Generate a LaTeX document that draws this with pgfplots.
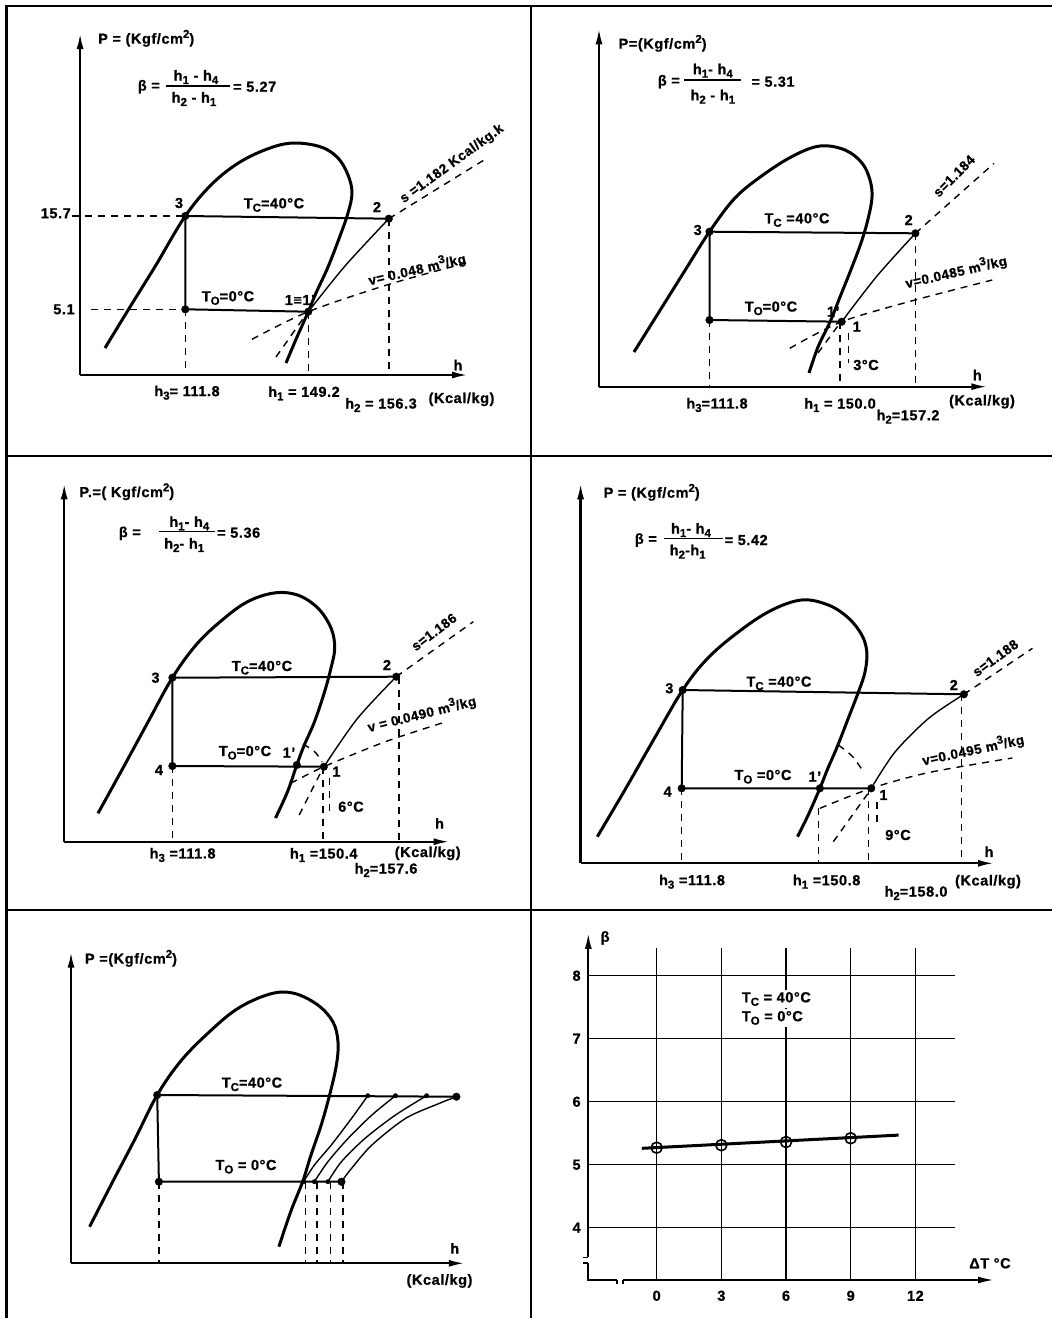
\documentclass[border=0pt]{standalone}
\usepackage{fontspec}
\setmainfont{Liberation Sans}[LetterSpace=4.0, BoldFeatures={FakeBold=0.8}]
\usepackage{pgfplots}
\pgfplotsset{compat=1.18}
\usetikzlibrary{arrows.meta}
\newcommand\lab{\fontsize{14.5}{16}\selectfont\bfseries}
\newcommand\sml{\fontsize{13.5}{15}\selectfont\bfseries}
\newcommand\sub[1]{\raisebox{-0.45ex}{\fontsize{11.5}{12}\selectfont\bfseries #1}}
\newcommand\sps[1]{\raisebox{0.75ex}{\fontsize{11.5}{12}\selectfont\bfseries #1}}
\pgfplotsset{
 dome/.style={black, line width=3pt, smooth, tension=0.6, no markers},
 cyc/.style={black, line width=2pt, no markers},
 comp/.style={black, line width=1.4pt, smooth, no markers},
 dsh/.style={black, line width=1.4pt, dash pattern=on 7pt off 6pt, no markers},
 dshs/.style={black, line width=1.4pt, dash pattern=on 7pt off 6pt, smooth, no markers},
 dots/.style={black, only marks, mark=*, mark size=3.8pt},
 sdots/.style={black, only marks, mark=*, mark size=2.2pt},
}
\tikzset{lbl/.style={font=\lab, inner sep=0pt},
 slbl/.style={font=\sml, inner sep=0pt},
 axarrow/.style={line width=2.3pt, -{Latex[length=16pt,width=7pt]}},
 frac/.style={line width=1.5pt}}
\begin{document}
\begin{tikzpicture}
\useasboundingbox (0,0) rectangle (1052pt,1318pt);
\begin{axis}[at={(0pt,0pt)}, anchor=south west, scale only axis,
  width=1052pt, height=1318pt, xmin=0, xmax=1052, ymin=0, ymax=1318,
  y dir=reverse, hide axis, clip=false]
% ---------- frame ----------
\draw[line width=2.4pt] (axis cs:6.5,1318) -- (axis cs:6.5,5.7) -- (axis cs:1052,5.7);
\draw[line width=2.4pt] (axis cs:6.5,455.7) -- (axis cs:1052,455.7);
\draw[line width=2.4pt] (axis cs:6.5,910) -- (axis cs:1052,910);
\draw[line width=2.4pt] (axis cs:531,5.7) -- (axis cs:531,1318);

% ================= PANEL 1 =================
\draw[axarrow] (axis cs:80.1,375) -- (axis cs:80.1,33);
\draw[axarrow] (axis cs:80.1,375) -- (axis cs:468,375);
\addplot[dome] coordinates {(105,348) (130,307) (156,265) (185.3,216) (212,184) (240,162) (270,148) (294,143) (321,147) (338,158) (348,175) (352,193) (348,213) (340,236) (328,267) (316,293) (308.3,311.7) (297,337) (286,363)};
\addplot[cyc] coordinates {(185.3,216) (388.8,218.7)};
\addplot[cyc] coordinates {(185.3,216) (185.3,309.3) (308.3,311.7)};
\addplot[comp] coordinates {(308.3,311.7) (345,266) (388.8,218.7)};
\addplot[dsh] coordinates {(72,216) (185.3,216)};
\addplot[dsh] coordinates {(91,309.3) (185.3,309.3)};
\addplot[dsh] coordinates {(185.3,309.3) (185.3,375)};
\addplot[dsh] coordinates {(308.3,311.7) (308.3,375)};
\addplot[dsh] coordinates {(388.8,218.7) (388.8,375)};
\addplot[dsh] coordinates {(388.8,218.7) (486.8,158.3)};
\addplot[dshs] coordinates {(251.9,339.3) (308.3,311.7) (390,284) (470,262)};
\addplot[dsh] coordinates {(276,357) (307,313)};
\addplot[dots] coordinates {(185.3,216) (388.8,218.7) (185.3,309.3) (308.3,311.7)};
\node[lbl, anchor=west] at (axis cs:98,38.3) {P = (Kgf/cm\sps2)};
\node[lbl, anchor=east] at (axis cs:160,86.7) {β =};
\draw[frac] (axis cs:165.6,86) -- (axis cs:229.9,86);
\node[lbl] at (axis cs:196,77) {h\sub1 - h\sub4};
\node[lbl] at (axis cs:194,99) {h\sub2 - h\sub1};
\node[lbl, anchor=west] at (axis cs:233,86.7) {= 5.27};
\node[lbl] at (axis cs:179,203) {3};
\node[lbl] at (axis cs:377,207) {2};
\node[lbl] at (axis cs:274,205) {T\sub{C}=40°C};
\node[lbl] at (axis cs:228,298) {T\sub{O}=0°C};
\node[lbl] at (axis cs:300,300) {1≡1'};
\node[lbl] at (axis cs:55.8,213.3) {15.7};
\node[lbl] at (axis cs:64,309.3) {5.1};
\node[lbl] at (axis cs:458,365) {h};
\node[lbl] at (axis cs:187,392.7) {h\sub3= 111.8};
\node[lbl] at (axis cs:304,393.3) {h\sub1 = 149.2};
\node[lbl] at (axis cs:381,405) {h\sub2 = 156.3};
\node[lbl] at (axis cs:461.5,399.3) {(Kcal/kg)};
\node[slbl, rotate=36] at (axis cs:452,164) {s =1.182 Kcal/kg.k};
\node[slbl, rotate=13] at (axis cs:417,269) {v= 0.048 m\sps3/kg};

% ================= PANEL 2 =================
\draw[axarrow] (axis cs:599,386.7) -- (axis cs:599,28.3);
\draw[axarrow] (axis cs:599,386.7) -- (axis cs:987.3,386.7);
\addplot[dome] coordinates {(634,352) (659,312) (684,272) (709.5,231.7) (735,198) (763,175) (793,156) (820,146) (845,150) (862,163) (870,180) (872,197) (868.5,217) (862,240) (852,267) (840,297) (830,322) (818,347) (809,373)};
\addplot[cyc] coordinates {(709.5,231.7) (915.4,233.3)};
\addplot[cyc] coordinates {(709.5,231.7) (709.5,320) (841.7,321.7)};
\addplot[comp] coordinates {(841.7,321.7) (877,276) (915.4,233.3)};
\addplot[dsh] coordinates {(709.5,320) (709.5,386.7)};
\addplot[dsh] coordinates {(840,322) (840,386.7)};
\addplot[dsh] coordinates {(915.4,233.3) (915.4,386.7)};
\addplot[dsh] coordinates {(848.4,333) (848.4,363)};
\addplot[dsh] coordinates {(915.4,233.3) (994,163.3)};
\addplot[dshs] coordinates {(789.8,348.3) (841.7,321.7) (915,300) (992.3,280)};
\addplot[dsh] coordinates {(818,353) (840,323)};
\addplot[dots] coordinates {(709.5,231.7) (915.4,233.3) (709.5,320) (841.7,321.7)};
\node[lbl] at (axis cs:662.6,43.3) {P=(Kgf/cm\sps2)};
\node[lbl, anchor=east] at (axis cs:680,81.7) {β =};
\draw[frac] (axis cs:684.3,80) -- (axis cs:741.3,80);
\node[lbl] at (axis cs:712.8,70.7) {h\sub1- h\sub4};
\node[lbl] at (axis cs:712.8,96.7) {h\sub2 - h\sub1};
\node[lbl, anchor=west] at (axis cs:751.3,81.7) {= 5.31};
\node[lbl] at (axis cs:697.7,230) {3};
\node[lbl] at (axis cs:908.7,220) {2};
\node[lbl] at (axis cs:797,220) {T\sub{C} =40°C};
\node[lbl] at (axis cs:771,308.3) {T\sub{O}=0°C};
\node[lbl] at (axis cs:833.3,311.7) {1'};
\node[lbl] at (axis cs:856.8,326.7) {1};
\node[lbl] at (axis cs:866,365) {3°C};
\node[lbl] at (axis cs:977.3,375) {h};
\node[lbl] at (axis cs:717,405) {h\sub3=111.8};
\node[lbl] at (axis cs:840,405) {h\sub1 = 150.0};
\node[lbl] at (axis cs:908,416.7) {h\sub2=157.2};
\node[lbl] at (axis cs:982,401.7) {(Kcal/kg)};
\node[slbl, rotate=45] at (axis cs:954,176) {s=1.184};
\node[slbl, rotate=13] at (axis cs:956,271.5) {v=0.0485 m\sps3/kg};

% ================= PANEL 3 =================
\draw[axarrow] (axis cs:64.2,841.7) -- (axis cs:64.2,483.3);
\draw[axarrow] (axis cs:64.2,841.7) -- (axis cs:449.6,841.7);
\addplot[dome] coordinates {(98,813.3) (123,768) (148,722) (172.4,677.7) (196,645) (221,621) (247,602) (274,593) (297.5,595) (317.8,608) (331,628) (334.7,648) (331,668) (324.5,692) (314.4,722) (304.3,745) (296.8,765) (287.4,792) (275.5,818)};
\addplot[cyc] coordinates {(172.4,677.7) (396.2,676.7)};
\addplot[cyc] coordinates {(172.4,677.7) (172.4,766) (323.9,766.7)};
\addplot[comp] coordinates {(323.9,766.7) (357,719) (396.2,676.7)};
\addplot[dsh] coordinates {(172.4,766) (172.4,841.7)};
\addplot[dsh] coordinates {(322.9,767) (322.9,841.7)};
\addplot[dsh] coordinates {(398.9,677) (398.9,841.7)};
\addplot[dsh] coordinates {(329.6,778) (329.6,817)};
\addplot[dshs] coordinates {(303,744) (315,752) (322,762)};
\addplot[dshs] coordinates {(290.7,783.3) (323.9,766.7) (385.4,741.7) (446.2,721.7)};
\addplot[dsh] coordinates {(299.2,815) (323,768)};
\addplot[dsh] coordinates {(396.2,676.7) (473.3,621.7)};
\addplot[dots] coordinates {(172.4,677.7) (396.2,676.7) (172.4,766) (296.8,765) (323.9,766.7)};
\node[lbl] at (axis cs:126.8,491.7) {P.=( Kgf/cm\sps2)};
\node[lbl, anchor=east] at (axis cs:141,533.3) {β =};
\draw[frac] (axis cs:158.9,531.7) -- (axis cs:214.7,531.7);
\node[lbl] at (axis cs:189.3,523.3) {h\sub1- h\sub4};
\node[lbl] at (axis cs:184.2,545) {h\sub2- h\sub1};
\node[lbl, anchor=west] at (axis cs:217,532.7) {= 5.36};
\node[lbl] at (axis cs:155.5,677.7) {3};
\node[lbl] at (axis cs:387,665) {2};
\node[lbl] at (axis cs:158.9,770) {4};
\node[lbl] at (axis cs:262,667.7) {T\sub{C}=40°C};
\node[lbl] at (axis cs:245,752.7) {T\sub{O}=0°C};
\node[lbl] at (axis cs:289,752.7) {1'};
\node[lbl] at (axis cs:336.4,771.7) {1};
\node[lbl] at (axis cs:351,806.7) {6°C};
\node[lbl] at (axis cs:439.5,823.3) {h};
\node[lbl] at (axis cs:182.6,855) {h\sub3 =111.8};
\node[lbl] at (axis cs:323.7,855) {h\sub1 =150.4};
\node[lbl] at (axis cs:386,870) {h\sub2=157.6};
\node[lbl] at (axis cs:427.7,853.3) {(Kcal/kg)};
\node[slbl, rotate=37] at (axis cs:434,632) {s=1.186};
\node[slbl, rotate=14] at (axis cs:421.7,713.5) {v = 0.0490 m\sps3/kg};

% ================= PANEL 4 =================
\draw[axarrow] (axis cs:580.6,863.3) -- (axis cs:580.6,483.3);
\draw[axarrow] (axis cs:580.6,863.3) -- (axis cs:994,863.3);
\addplot[dome] coordinates {(597.3,836.7) (626,788) (654,739) (682.7,690) (707,659) (737,633) (770,611) (801.5,600) (828.3,605) (848.4,618) (861.8,635) (866.8,652) (865,672) (858.4,692) (848.4,718) (836.7,748) (828,768) (819.9,788.3) (808.2,815) (797.5,836.7)};
\addplot[cyc] coordinates {(682.7,690) (963.9,694.3)};
\addplot[cyc] coordinates {(682.7,690) (681.7,788.3) (871.2,788.3)};
\addplot[comp] coordinates {(871.2,788.3) (895,752) (929,718) (963.9,694.3)};
\addplot[dsh] coordinates {(681.7,788.3) (681.7,863.3)};
\addplot[dsh] coordinates {(818.3,808) (818.3,863.3)};
\addplot[dsh] coordinates {(868.5,788.3) (868.5,863.3)};
\addplot[dsh] coordinates {(961.5,694.3) (961.5,863.3)};
\addplot[dsh] coordinates {(876.8,801.7) (876.8,825)};
\addplot[dshs] coordinates {(838.3,745) (852,756) (863.5,771.7)};
\addplot[dshs] coordinates {(819.9,808.3) (871.2,788.3) (929,772.5) (1012.4,758)};
\addplot[dsh] coordinates {(833.3,841.7) (869,792)};
\addplot[dsh] coordinates {(963.9,694.3) (1032.5,648.3)};
\addplot[dots] coordinates {(682.7,690) (963.9,694.3) (681.7,788.3) (819.9,788.3) (871.2,788.3)};
\node[lbl] at (axis cs:651.7,492.3) {P = (Kgf/cm\sps2)};
\node[lbl, anchor=east] at (axis cs:657,540) {β =};
\draw[frac] (axis cs:664.3,538.3) -- (axis cs:722.9,538.3);
\node[lbl] at (axis cs:691,530) {h\sub1- h\sub4};
\node[lbl] at (axis cs:687.7,551.7) {h\sub2-h\sub1};
\node[lbl, anchor=west] at (axis cs:724.5,540) {= 5.42};
\node[lbl] at (axis cs:669.3,688.3) {3};
\node[lbl] at (axis cs:953.8,685) {2};
\node[lbl] at (axis cs:667.6,791.7) {4};
\node[lbl] at (axis cs:779,683.3) {T\sub{C} =40°C};
\node[lbl] at (axis cs:763,776.7) {T\sub{O} =0°C};
\node[lbl] at (axis cs:814.9,776.7) {1'};
\node[lbl] at (axis cs:883.5,795) {1};
\node[lbl] at (axis cs:898,835) {9°C};
\node[lbl] at (axis cs:989,851.7) {h};
\node[lbl] at (axis cs:692,881.7) {h\sub3 =111.8};
\node[lbl] at (axis cs:826.6,881.7) {h\sub1 =150.8};
\node[lbl] at (axis cs:916,893) {h\sub2=158.0};
\node[lbl] at (axis cs:988,881.7) {(Kcal/kg)};
\node[slbl, rotate=36] at (axis cs:995.4,658) {s=1.188};
\node[slbl, rotate=12] at (axis cs:973,749.5) {v=0.0495 m\sps3/kg};

% ================= PANEL 5 =================
\draw[axarrow] (axis cs:71,1263.3) -- (axis cs:71,951.7);
\draw[axarrow] (axis cs:71,1263.3) -- (axis cs:464.8,1263.3);
\addplot[dome] coordinates {(89.6,1226.7) (112,1183) (135,1139) (157.2,1095) (180,1062) (206,1035) (237,1009) (270,994) (294,993.3) (317.8,1005) (333,1022) (338,1042) (336.4,1065) (329.6,1095) (321.2,1125) (311,1155) (302.6,1181.7) (290.7,1211.7) (278.9,1246.7)};
\addplot[cyc] coordinates {(157.2,1095) (456.4,1096.7)};
\addplot[cyc] coordinates {(157.2,1095) (158.9,1181.7) (341.4,1181.7)};
\addplot[comp] coordinates {(303.6,1181.7) (314.4,1165) (331.3,1145) (351.6,1118.3) (367.8,1095.7)};
\addplot[comp] coordinates {(314.4,1181.7) (327.9,1161.7) (348.2,1138.3) (371.9,1115) (395.5,1095.7)};
\addplot[comp] coordinates {(327.9,1181.7) (341.4,1161.7) (365.1,1138.3) (395.5,1115) (426.6,1095.7)};
\addplot[comp] coordinates {(341.4,1181.7) (351.6,1168.3) (371.9,1145) (405.7,1118.3) (439.5,1103.3) (456.4,1096.7)};
\addplot[dsh] coordinates {(158.9,1181.7) (158.9,1263.3)};
\addplot[dsh] coordinates {(305.3,1181.7) (305.3,1263.3)};
\addplot[dsh] coordinates {(316.8,1181.7) (316.8,1263.3)};
\addplot[dsh] coordinates {(330.3,1181.7) (330.3,1263.3)};
\addplot[dsh] coordinates {(343.1,1181.7) (343.1,1263.3)};
\addplot[dots] coordinates {(157.2,1095) (456.4,1096.7) (158.9,1181.7) (341.4,1181.7)};
\addplot[sdots] coordinates {(303.6,1181.7) (314.4,1181.7) (327.9,1181.7) (367.8,1095.7) (395.5,1095.7) (426.6,1095.7)};
\node[lbl] at (axis cs:131,958.3) {P =(Kgf/cm\sps2)};
\node[lbl] at (axis cs:252,1084.3) {T\sub{C}=40°C};
\node[lbl] at (axis cs:246,1166.7) {T\sub{O} = 0°C};
\node[lbl] at (axis cs:454.7,1248.3) {h};
\node[lbl] at (axis cs:439.5,1281) {(Kcal/kg)};
\end{axis}

% ================= PANEL 6: beta vs Delta T =================
\begin{axis}[at={(588.3pt,38pt)}, anchor=south west, scale only axis,
  width=405.8pt, height=347.1pt,
  xmin=-3.17, xmax=15.65, ymin=3.17, ymax=8.68,
  axis lines=left, axis line style={draw=none}, tick style={draw=none},
  xtick={0,3,6,9,12}, ytick={4,5,6,7,8},
  /pgf/number format/assume math mode=true,
  tick label style={font=\lab},
  xticklabel style={yshift=-5pt}, yticklabel style={xshift=-2pt},
  clip=false]
\pgfplotsinvokeforeach{0,3,6,9,12}{\draw[line width=1.5pt] (axis cs:#1,3.17) -- (axis cs:#1,8.44);}
\pgfplotsinvokeforeach{4,5,6,7,8}{\draw[line width=1.5pt] (axis cs:-3.17,#1) -- (axis cs:13.84,#1);}
\draw[line width=2.2pt, -{Latex[length=16pt,width=7pt]}] (axis cs:-3.17,3.53) -- (axis cs:-3.17,8.68);
\draw[line width=2.2pt] (axis cs:-3.17,3.44) -- (axis cs:-3.17,3.17) -- (axis cs:-1.84,3.17);
\draw[line width=2.2pt, -{Latex[length=16pt,width=7pt]}] (axis cs:-1.56,3.17) -- (axis cs:15.65,3.17);
\draw[line width=1.4pt] (axis cs:-3.17,3.53) -- ++(-5pt,0pt);
\draw[line width=1.4pt] (axis cs:-3.17,3.44) -- ++(-5pt,0pt);
\draw[line width=1.4pt] (axis cs:-1.84,3.17) -- ++(0pt,-4pt);
\draw[line width=1.4pt] (axis cs:-1.56,3.17) -- ++(0pt,-4pt);
\addplot[black, line width=3pt, no markers] coordinates {(-0.69,5.26) (11.22,5.47)};
\addplot[black, only marks, mark=o, mark size=5.5pt, mark options={fill=white, line width=1.6pt}] coordinates {(0,5.27) (3,5.31) (6,5.36) (9,5.42)};
\addplot[black, only marks, mark=|, mark size=5.5pt, mark options={line width=1.2pt}] coordinates {(0,5.27) (3,5.31) (6,5.36) (9,5.42)};
\node[lbl, anchor=west, fill=white, inner sep=2pt] at (axis cs:3.85,7.63) {T\sub{C} = 40°C};
\node[lbl, anchor=west, fill=white, inner sep=2pt] at (axis cs:3.85,7.33) {T\sub{O} = 0°C};
\node[lbl] at (axis cs:-2.39,8.6) {β};
\node[lbl] at (axis cs:15.46,3.435) {ΔT °C};
\end{axis}
\end{tikzpicture}
\end{document}
